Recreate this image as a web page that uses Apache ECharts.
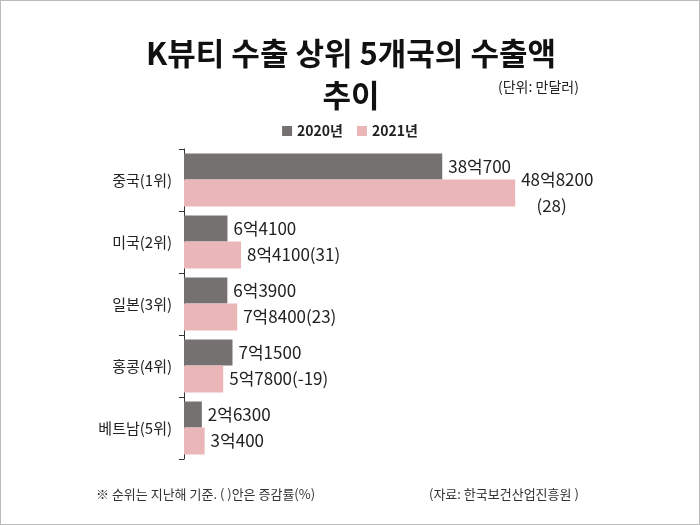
<!DOCTYPE html>
<html><head><meta charset="utf-8">
<script src="https://cdn.jsdelivr.net/npm/echarts@6/dist/echarts.min.js"></script>
<style>html,body{margin:0;padding:0;background:#fff}#c{width:700px;height:525px;box-sizing:border-box;border:1px solid #bbb}</style>
</head><body><div id="c"></div>
<script>
const categories = ['중국(1위)','미국(2위)','일본(3위)','홍콩(4위)','베트남(5위)'];
const v2020 = [380700, 64100, 63900, 71500, 26300];
const v2021 = [488200, 84100, 78400, 57800, 30400];
const change = [28, 31, 23, -19, null];
const fmt = v => Math.floor(v/10000)+'억'+(v%10000);
const F = 'Noto Sans CJK KR';
const chart = echarts.init(document.getElementById('c'));
chart.setOption({
  textStyle:{fontFamily:F},
  title:{text:'K뷰티 수출 상위 5개국의 수출액\n추이',left:345,textAlign:'center',top:26,
    textStyle:{fontFamily:F,fontSize:31,fontWeight:'bold',color:'#111',lineHeight:42}},
  legend:{top:118,left:'center',itemWidth:10,itemHeight:10,itemGap:14,icon:'rect',
    textStyle:{fontFamily:F,fontSize:14,fontWeight:'bold',color:'#222'}},
  graphic:[
    {type:'text',left:497,top:79,style:{text:'(단위: 만달러)',font:'14px "Noto Sans CJK KR"',fill:'#222'}},
    {type:'text',left:95,top:487,style:{text:'※ 순위는 지난해 기준. ( )안은 증감률(%)',font:'13px "Noto Sans CJK KR"',fill:'#333'}},
    {type:'text',left:428,top:487,style:{text:'(자료: 한국보건산업진흥원 )',font:'13px "Noto Sans CJK KR"',fill:'#333'}}
  ],
  grid:{left:183,top:148,bottom:65,width:407},
  xAxis:{type:'value',min:0,max:600000,show:false},
  yAxis:{type:'category',data:categories,inverse:true,
    axisLine:{lineStyle:{color:'#333'}},axisTick:{show:true,length:5,interval:0,lineStyle:{color:'#333'}},
    axisLabel:{color:'#222',fontSize:15,margin:12}},
  series:[
    {name:'2020년',type:'bar',data:v2020,barWidth:26,barGap:'0%',itemStyle:{color:'#767171'},
      label:{show:true,position:'right',distance:6,fontSize:17,color:'#222',formatter:p=>fmt(p.value)}},
    {name:'2021년',type:'bar',data:v2021,barWidth:27,itemStyle:{color:'#EBB6B7'},
      label:{show:true,position:'right',distance:6,fontSize:17,color:'#222',lineHeight:26,
        formatter:p=>{const c=change[p.dataIndex];if(c===null)return fmt(p.value);
          return p.dataIndex===0?fmt(p.value)+'\n    ('+c+')':fmt(p.value)+'('+c+')';}}}
  ]
});
</script></body></html>
